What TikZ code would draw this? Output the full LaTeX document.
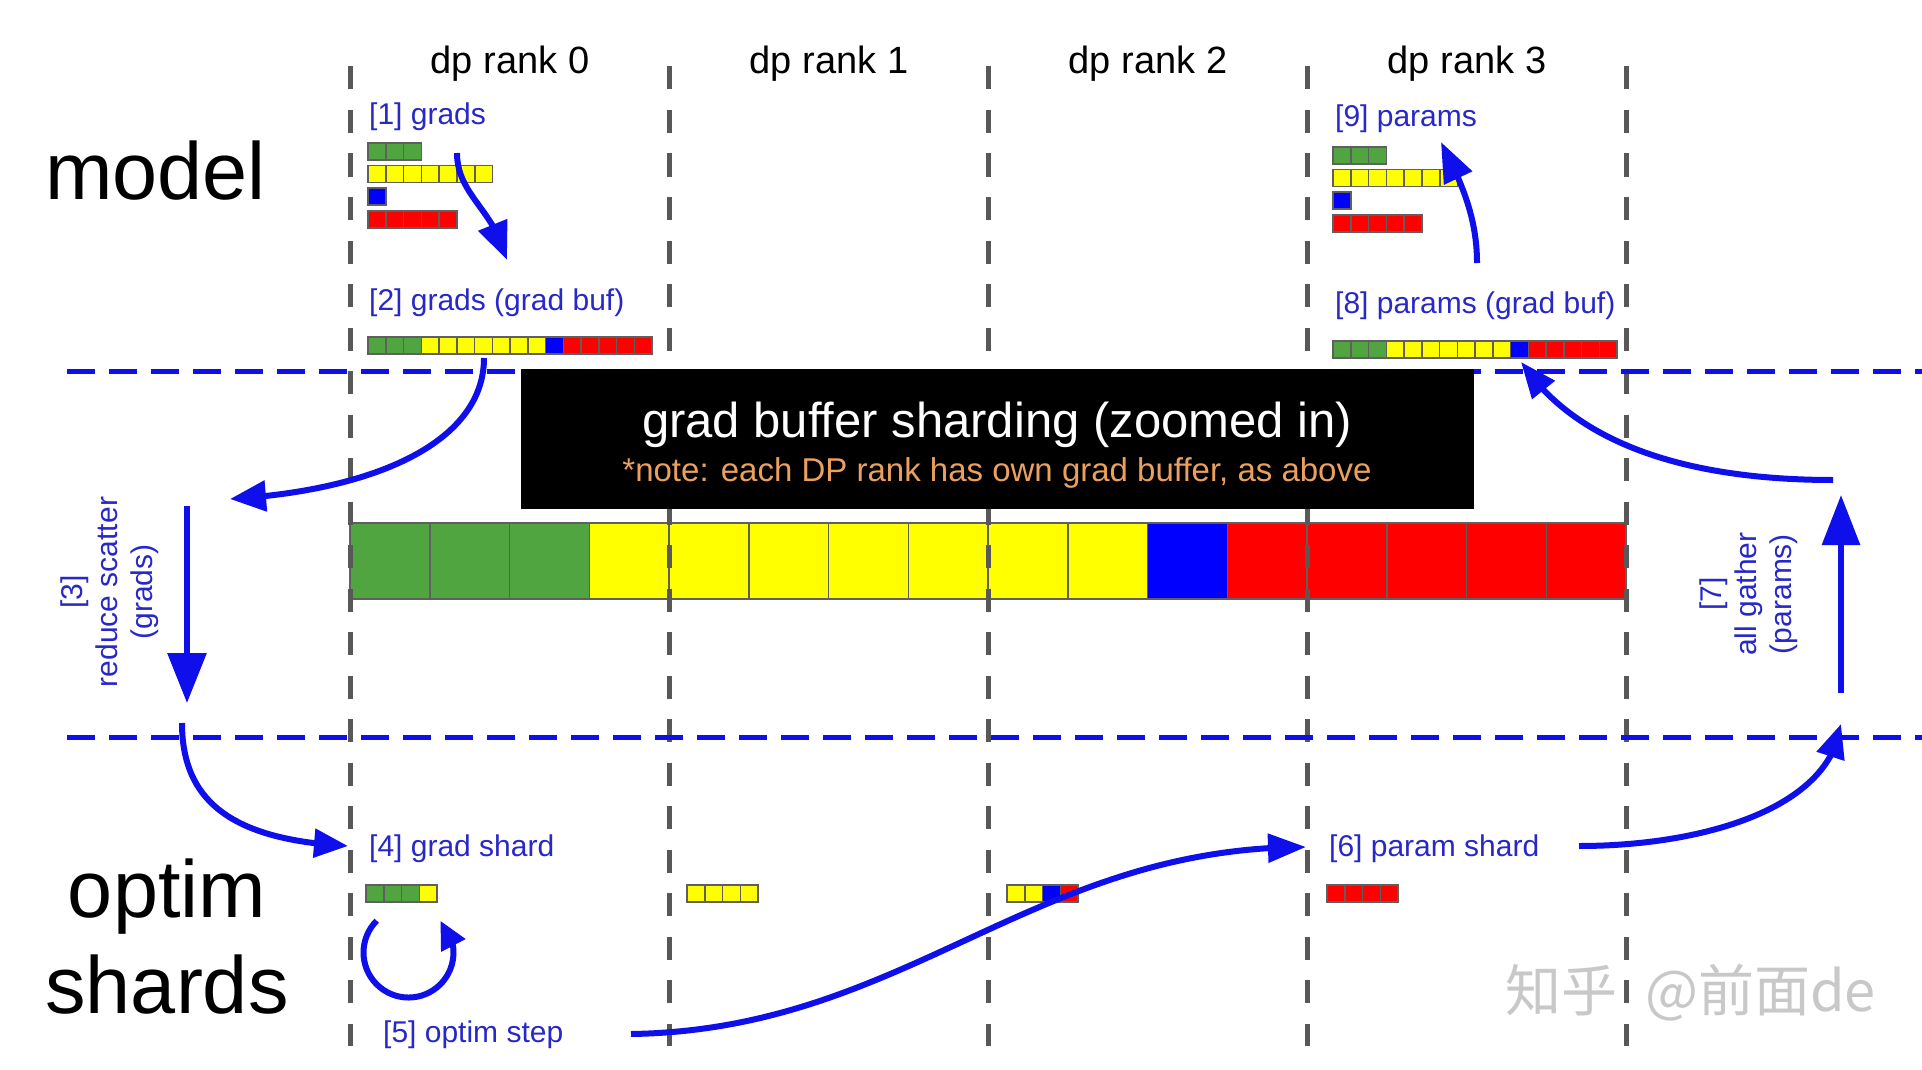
\documentclass[tikz,border=0pt]{standalone}
\usepackage{fontspec}
\setmainfont{Liberation Sans}
\newfontfamily\cjkfont{Noto Sans CJK SC}
\usetikzlibrary{arrows.meta,bending}
\definecolor{lblue}{RGB}{40,40,200}
\definecolor{ablue}{RGB}{15,15,235}
\definecolor{dgray}{RGB}{88,88,88}
\definecolor{cgray}{RGB}{95,95,95}
\definecolor{cg}{RGB}{80,165,64}
\definecolor{cy}{RGB}{255,255,0}
\definecolor{cb}{RGB}{0,0,255}
\definecolor{cr}{RGB}{255,0,0}
\definecolor{noteorange}{RGB}{235,160,95}
\definecolor{wmgray}{RGB}{200,200,200}
\tikzset{
  vline/.style={draw=dgray,line width=5pt,dash pattern=on 23pt off 20.5pt},
  hline/.style={draw=ablue,line width=5pt,dash pattern=on 28pt off 14pt},
  cellst/.style={draw=cgray,line width=1.5pt},
  lbl/.style={text=lblue,font=\fontsize{30}{35}\selectfont,inner sep=0pt,anchor=base west},
  rot/.style={text=lblue,font=\fontsize{30}{35}\selectfont,inner sep=0pt,align=center,rotate=90},
  hdr/.style={font=\fontsize{38}{44}\selectfont,inner sep=0pt,anchor=base},
  big/.style={font=\fontsize{81}{96}\selectfont,inner sep=0pt},
  flow/.style={draw=ablue,line width=6pt},
}
\newcommand\cellrow[5]{%
  \foreach \cc [count=\ii from 0] in {#3} {\filldraw[cellst,fill=\cc] ({#1+\ii*#4},#2) rectangle ++(#4,#5);}%
}
\begin{document}
\begin{tikzpicture}[x=1pt,y=-1pt]
\useasboundingbox (0,0) rectangle (1922,1070);
\fill[white] (0,0) rectangle (1922,1070);
% main zoomed grad buffer
\cellrow{350}{523}{cg,cg,cg,cy,cy,cy,cy,cy,cy,cy,cb,cr,cr,cr,cr,cr}{79.75}{76}
% vertical rank separators
\foreach \x [count=\i] in {350,669,988,1307,1626} {
  \coordinate (v\i t) at (\x,66.5);
  \coordinate (v\i b) at (\x,1046);
  \draw[vline] (v\i t) -- (v\i b);
}
% horizontal blue dashed separators
\coordinate (h1l) at (67,371); \coordinate (h1r) at (1922,371);
\coordinate (h2l) at (67,737); \coordinate (h2r) at (1922,737);
\draw[hline] (h1l) -- (h1r);
\draw[hline] (h2l) -- (h2r);
% black box
\fill[black] (521,369) rectangle (1474,509);
\node[text=white,font=\fontsize{49}{55}\selectfont,inner sep=0pt,anchor=base] (title) at (997,437) {grad buffer sharding (zoomed in)};
\node[text=noteorange,font=\fontsize{33}{38}\selectfont,inner sep=0pt,anchor=base] (note) at (997,481) {*note: each DP rank has own grad buffer, as above};
% headers
\node[hdr] (r0) at (510,74) {dp rank 0};
\node[hdr] (r1) at (829,74) {dp rank 1};
\node[hdr] (r2) at (1148,74) {dp rank 2};
\node[hdr] (r3) at (1467,74) {dp rank 3};
\node[big,anchor=base west] (model) at (45,199) {model};
\node[big,anchor=base] (optim) at (167,917) {optim};
\node[big,anchor=base] (shards) at (167,1013) {shards};
% rank 0 model buffers
\node[lbl] (l1) at (369,125) {[1] grads};
\cellrow{368}{143}{cg,cg,cg}{17.8}{17}
\cellrow{368}{165.5}{cy,cy,cy,cy,cy,cy,cy}{17.8}{17}
\cellrow{368}{188}{cb}{17.8}{17}
\cellrow{368}{211}{cr,cr,cr,cr,cr}{17.8}{17}
\node[lbl] (l2) at (369,310) {[2] grads (grad buf)};
\cellrow{368}{337}{cg,cg,cg,cy,cy,cy,cy,cy,cy,cy,cb,cr,cr,cr,cr,cr}{17.75}{17}
% rank 3 model buffers
\node[lbl] (l9) at (1335,127) {[9] params};
\cellrow{1333}{147}{cg,cg,cg}{17.8}{17}
\cellrow{1333}{169.5}{cy,cy,cy,cy,cy,cy,cy}{17.8}{17}
\cellrow{1333}{192}{cb}{17.8}{17}
\cellrow{1333}{215}{cr,cr,cr,cr,cr}{17.8}{17}
\node[lbl] (l8) at (1335,313) {[8] params (grad buf)};
\cellrow{1333}{341}{cg,cg,cg,cy,cy,cy,cy,cy,cy,cy,cb,cr,cr,cr,cr,cr}{17.75}{17}
% optimizer shards
\node[lbl] (l4) at (369,856) {[4] grad shard};
\node[lbl] (l5) at (383,1042) {[5] optim step};
\node[lbl] (l6) at (1329,856) {[6] param shard};
\cellrow{366}{885}{cg,cg,cg,cy}{17.75}{17}
\cellrow{687}{885}{cy,cy,cy,cy}{17.75}{17}
\cellrow{1007}{885}{cy,cy,cb,cr}{17.75}{17}
\cellrow{1327}{885}{cr,cr,cr,cr}{17.75}{17}
% rotated labels
\node[rot] (l3) at (110,592) {[3]\\reduce scatter\\(grads)};
\node[rot] (l7) at (1749,594) {[7]\\all gather\\(params)};
% arrows
\coordinate (a1s) at (457,153); \coordinate (a1e) at (507,260);
\draw[flow,-{Triangle[length=38pt,width=30pt]}] (a1s) .. controls (457,195) and (495,210) .. (a1e);
\coordinate (a2s) at (484,358); \coordinate (a2e) at (230,499);
\draw[flow,-{Triangle[length=36pt,width=30pt]}] (a2s) .. controls (484,440) and (380,490) .. (a2e);
\coordinate (a3s) at (187,506); \coordinate (a3e) at (187,703);
\draw[flow,-{Triangle[length=50pt,width=38pt]}] (a3s) -- (a3e);
\coordinate (a4s) at (182,723); \coordinate (a4e) at (348,846);
\draw[flow,-{Triangle[length=34pt,width=28pt]}] (a4s) .. controls (182,800) and (230,840) .. (a4e);
\coordinate (a5s) at (376.7,920.7);
\draw[flow,-{Triangle[length=28pt,width=26pt]}] (a5s) arc[start angle=225,end angle=-45,radius=45];
\coordinate (a6s) at (631,1034); \coordinate (a6e) at (1306,847);
\draw[flow,-{Triangle[length=38pt,width=28pt]}] (a6s) .. controls (905,1030) and (1031,847) .. (a6e);
\coordinate (a7s) at (1579,846); \coordinate (a7e) at (1841,724);
\draw[flow,-{Triangle[length=34pt,width=28pt]}] (a7s) .. controls (1700,846) and (1830,810) .. (a7e);
\coordinate (a8s) at (1841,693); \coordinate (a8e) at (1841,495);
\draw[flow,-{Triangle[length=50pt,width=37pt]}] (a8s) -- (a8e);
\coordinate (a9s) at (1833,480); \coordinate (a9e) at (1521,362);
\draw[flow,-{Triangle[length=36pt,width=28pt]}] (a9s) .. controls (1700,480) and (1580,450) .. (a9e);
\coordinate (a10s) at (1477,263); \coordinate (a10e) at (1441,142);
\draw[flow,-{Triangle[length=40pt,width=30pt]}] (a10s) .. controls (1477,215) and (1460,180) .. (a10e);
% watermark
\node[text=wmgray,font=\cjkfont\fontsize{56}{60}\selectfont,inner sep=0pt,anchor=base west] (wm) at (1505,1011) {知乎\hspace{28pt}@前面de};
\end{tikzpicture}
\end{document}
